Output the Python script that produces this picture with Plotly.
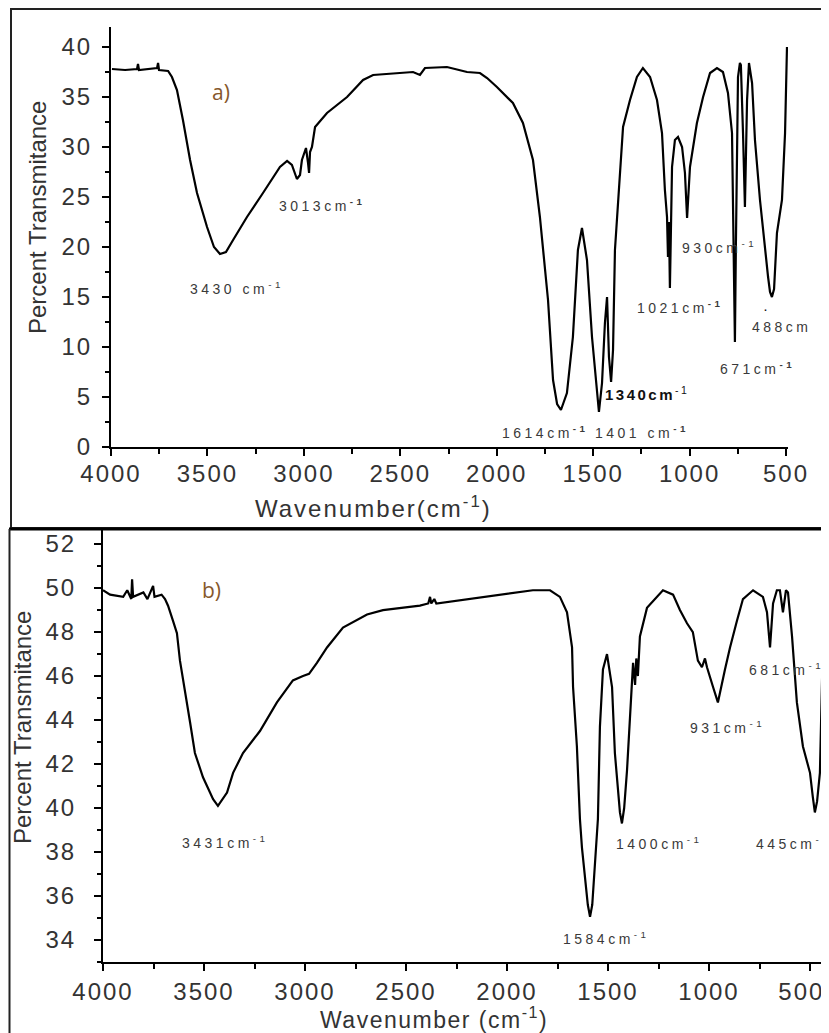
import plotly.graph_objects as go

# ---------------- data: panel a) ----------------
wn_a = [3995, 3927, 3865, 3860, 3855, 3798, 3761, 3756, 3751, 3704, 3684, 3658, 3627, 3590, 3554,
        3502, 3466, 3435, 3404, 3367, 3295, 3212, 3124, 3087, 3062, 3036, 3020, 3010, 2989, 2979,
        2973, 2968, 2958, 2942, 2880, 2776, 2693, 2641, 2517, 2434, 2398, 2372, 2258, 2154, 2087,
        2050, 1999, 1916, 1864, 1812, 1776, 1750, 1734, 1708, 1687, 1667, 1636, 1605, 1579, 1558,
        1532, 1506, 1480, 1470, 1454, 1439, 1428, 1418, 1407, 1397, 1387, 1371, 1345, 1309, 1273,
        1242, 1205, 1169, 1143, 1128, 1117, 1112, 1107, 1102, 1096, 1091, 1076, 1060, 1039, 1024,
        1013, 998, 962, 930, 894, 858, 827, 801, 780, 775, 765, 760, 749, 739, 734,
        723, 713, 702, 692, 676, 661, 635, 609, 593, 583, 573, 562, 547, 521, 505, 495]
tr_a = [37.8, 37.7, 37.8, 38.3, 37.7, 37.8, 37.9, 38.4, 37.7, 37.6, 37.0, 35.7, 32.7, 28.7, 25.4,
        22.0, 20.0, 19.3, 19.5, 20.7, 23.0, 25.4, 28.0, 28.6, 28.2, 26.8, 27.2, 28.7, 29.9, 28.5,
        27.4, 29.5, 30.0, 32.0, 33.4, 35.0, 36.7, 37.2, 37.4, 37.5, 37.2, 37.9, 38.0, 37.5, 37.4,
        36.9, 36.0, 34.4, 32.4, 28.7, 23.0, 18.0, 14.7, 6.7, 4.3, 3.7, 5.4, 11.0, 19.7, 21.9,
        18.7, 11.0, 5.0, 3.5, 6.4, 12.4, 15.0, 9.0, 6.5, 9.7, 19.7, 24.7, 32.0, 34.7, 37.0,
        37.9, 37.0, 34.7, 31.4, 25.7, 23.0, 19.0, 22.5, 15.9, 22.0, 28.0, 30.7, 31.0, 30.0, 27.4,
        22.9, 28.0, 32.4, 35.0, 37.4, 37.9, 37.5, 35.4, 31.4, 24.7, 10.5, 20.0, 37.0, 38.4, 38.2,
        31.4, 24.0, 34.7, 38.4, 36.4, 30.7, 24.7, 19.7, 17.0, 15.5, 15.0, 15.8, 21.4, 24.7, 31.4, 40.0]

# ---------------- data: panel b) ----------------
wn_b = [4000, 3965, 3900, 3880, 3860, 3856, 3851, 3800, 3780, 3752, 3745, 3710, 3693, 3678, 3653,
        3634, 3619, 3594, 3569, 3545, 3505, 3455, 3431, 3386, 3356, 3307, 3223, 3139, 3060, 3010,
        2980, 2941, 2891, 2812, 2693, 2614, 2530, 2431, 2390, 2381, 2375, 2360, 2350, 2198, 2035,
        1872, 1787, 1738, 1703, 1678, 1673, 1654, 1639, 1629, 1600, 1589, 1578, 1560, 1550, 1540,
        1525, 1505, 1480, 1466, 1441, 1431, 1420, 1406, 1391, 1376, 1366, 1360, 1352, 1342, 1307,
        1258, 1228, 1178, 1144, 1109, 1080, 1055, 1035, 1020, 1010, 980, 956, 921, 896, 862,
        832, 782, 733, 713, 698, 683, 664, 649, 634, 619, 609, 589, 565, 535, 500,
        486, 476, 465, 451, 436, 426]
tr_b = [49.9, 49.7, 49.6, 49.9, 49.5, 50.4, 49.6, 49.8, 49.5, 50.1, 49.6, 49.7, 49.5, 49.2, 48.5,
        47.95, 46.7, 45.2, 43.9, 42.5, 41.4, 40.4, 40.1, 40.7, 41.6, 42.5, 43.5, 44.8, 45.8, 46.0,
        46.1, 46.6, 47.3, 48.2, 48.8, 49.0, 49.1, 49.2, 49.3, 49.6, 49.3, 49.5, 49.3, 49.5, 49.7,
        49.9, 49.9, 49.6, 48.9, 47.3, 45.5, 42.8, 39.5, 38.2, 35.6, 35.05, 35.6, 38.2, 39.5, 43.7,
        46.3, 47.0, 45.5, 42.5, 39.8, 39.3, 40.0, 41.7, 44.0, 46.6, 45.6, 46.8, 46.0, 47.8, 49.1,
        49.6, 49.9, 49.7, 49.0, 48.4, 48.0, 46.7, 46.4, 46.8, 46.4, 45.5, 44.8, 46.3, 47.3, 48.5,
        49.5, 49.9, 49.6, 48.9, 47.3, 49.3, 49.9, 49.9, 48.9, 49.9, 49.8, 47.8, 44.8, 42.8, 41.6,
        40.5, 39.8, 40.3, 41.6, 47.6, 52.0]

# ---------------- ticks ----------------
x_ticks = [4000, 3500, 3000, 2500, 2000, 1500, 1000, 500]
x_minor = [3750, 3250, 2750, 2250, 1750, 1250, 750]
ya_ticks = [0, 5, 10, 15, 20, 25, 30, 35, 40]
ya_minor = [2.5, 7.5, 12.5, 17.5, 22.5, 27.5, 32.5, 37.5]
yb_ticks = [34, 36, 38, 40, 42, 44, 46, 48, 50, 52]
yb_minor = [33, 35, 37, 39, 41, 43, 45, 47, 49, 51]

# ---------------- peak labels ----------------
# (text, x, y, bold)
labels_a = [
    ("3430 cm<sup>-1</sup>", 3601, 15.9, False),
    ("3013cm<sup><b>-1</b></sup>", 3139, 24.2, False),
    ("1614cm<sup><b>-1</b></sup>", 1983, 1.5, False),
    ("1401 cm<sup><b>-1</b></sup>", 1501, 1.5, False),
    ("<b>1340cm</b><sup>-1</sup>", 1449, 5.4, True),
    ("1021cm<sup><b>-1</b></sup>", 1283, 14.0, False),
    ("930cm<sup>-1</sup>", 1050, 20.0, False),
    ("488cm", 687, 12.0, False),
    ("·", 632, 13.9, True),
    ("671cm<sup><b>-1</b></sup>", 853, 7.9, False),
]
labels_b = [
    ("3431cm<sup>-1</sup>", 3619, 38.45),
    ("1584cm<sup>-1</sup>", 1733, 34.1),
    ("1400cm<sup>-1</sup>", 1471, 38.4),
    ("445cm<sup>-1</sup>", 778, 38.4),
    ("931cm<sup>-1</sup>", 1104, 43.7),
    ("681cm<sup>-1</sup>", 812, 46.3),
]

# The page body has an 8 px margin, so the figure is drawn 8 px in from the window corner.
OFF = 8
W, H = 829 - OFF, 1033 - OFF
TICKFONT = dict(family="Liberation Sans, Arial, sans-serif", size=24, color="#333333")
LBLFONT = dict(family="Liberation Sans, Arial, sans-serif", size=14, color="#3a3a3a")


def spaced(s, px=3.0):
    return f'<span style="letter-spacing:{px}px">{s}</span>'


def px_x(px):
    return (px - OFF) / W


def px_y(py):
    return (H - (py - OFF)) / H


fig = go.Figure()
fig.add_trace(go.Scatter(x=wn_a, y=tr_a, mode="lines", line=dict(color="black", width=2.2),
                         xaxis="x", yaxis="y", hoverinfo="skip"))
fig.add_trace(go.Scatter(x=wn_b, y=tr_b, mode="lines", line=dict(color="black", width=2.2),
                         xaxis="x2", yaxis="y2", hoverinfo="skip"))

common = dict(showgrid=False, zeroline=False, showline=True, linecolor="black", linewidth=2,
              ticks="outside", ticklen=7, tickwidth=1.5, tickcolor="black", tickfont=TICKFONT,
              tickmode="array", automargin=False, ticklabeloverflow="allow")


def minor(vals, ln):
    return dict(tickmode="array", tickvals=vals, ticks="outside", ticklen=ln,
                tickwidth=1.5, tickcolor="black", showgrid=False)


xb_text = [spaced(str(v), 2) for v in x_ticks]
xb_text[-1] = spaced(str(x_ticks[-1]) + "&nbsp;&nbsp;", 2)

fig.update_layout(
    width=W, height=H, margin=dict(l=0, r=0, t=0, b=0, autoexpand=False),
    paper_bgcolor="white", plot_bgcolor="white", showlegend=False,
    xaxis=dict(domain=[px_x(111), px_x(788)], range=[4000, 489.7], anchor="y",
               tickvals=x_ticks, ticktext=[spaced(str(v), 2) for v in x_ticks],
               ticklabelstandoff=-3, minor=minor(x_minor, 5), **common),
    yaxis=dict(domain=[px_y(447), px_y(27)], range=[0, 42], anchor="x",
               tickvals=ya_ticks, ticktext=[spaced(str(v), 2) for v in ya_ticks],
               ticklabelstandoff=5, minor=minor(ya_minor, 4), **common),
    xaxis2=dict(domain=[px_x(103), 1.0], range=[4000, 406], anchor="y2",
                tickvals=x_ticks, ticktext=xb_text,
                ticklabelstandoff=0, minor=minor(x_minor, 5), **common),
    yaxis2=dict(domain=[px_y(962), px_y(530)], range=[33, 52.64], anchor="x2",
                tickvals=yb_ticks, ticktext=[spaced(str(v), 2) for v in yb_ticks],
                ticklabelstandoff=13, minor=minor(yb_minor, 4), **common),
)

ann = []
for text, x, y, bold in labels_a:
    f = dict(LBLFONT)
    if bold:
        f["size"] = 15
        f["color"] = "#111111"
    ann.append(dict(x=x, y=y, xref="x", yref="y", text=spaced(text, 2.5 if bold else 3.5),
                    showarrow=False, xanchor="left", yanchor="middle", font=f))
for text, x, y in labels_b:
    ann.append(dict(x=x, y=y, xref="x2", yref="y2", text=spaced(text, 3.5),
                    showarrow=False, xanchor="left", yanchor="middle", font=LBLFONT))

panel_font = dict(family="Open Sans, Calibri, sans-serif", size=21, color="#86582c")
ann.append(dict(x=3430, y=35.5, xref="x", yref="y", text="a)", showarrow=False,
                xanchor="center", yanchor="middle", font=panel_font))
ann.append(dict(x=3520, y=49.9, xref="x2", yref="y2", text="b)", showarrow=False,
                xanchor="left", yanchor="middle", font=panel_font))

title_font = dict(family="Liberation Sans, Arial, sans-serif", size=24, color="#333333")
ann.append(dict(x=px_x(38), y=px_y(218), xref="paper", yref="paper", text="Percent Transmitance",
                textangle=-90, showarrow=False, font=title_font, xanchor="center", yanchor="middle"))
ann.append(dict(x=px_x(22), y=px_y(728), xref="paper", yref="paper", text="Percent Transmitance",
                textangle=-90, showarrow=False, font=title_font, xanchor="center", yanchor="middle"))
ann.append(dict(x=px_x(373), y=px_y(507), xref="paper", yref="paper",
                text=spaced("Wavenumber(cm<sup>-1</sup>)", 2), showarrow=False, font=title_font,
                xanchor="center", yanchor="middle"))
ann.append(dict(x=px_x(434), y=px_y(1018), xref="paper", yref="paper",
                text=spaced("Wavenumber (cm<sup>-1</sup>)", 1.5), showarrow=False,
                font=dict(title_font, size=23), xanchor="center", yanchor="middle"))
fig.update_layout(annotations=ann)

# panel frames
shapes = [
    dict(type="rect", xref="paper", yref="paper", x0=px_x(11), x1=px_x(826), y0=px_y(528), y1=px_y(9),
         line=dict(color="#222222", width=2), fillcolor="rgba(0,0,0,0)"),
    dict(type="line", xref="paper", yref="paper", x0=px_x(9), x1=1.0, y0=px_y(529), y1=px_y(529),
         line=dict(color="black", width=3)),
    dict(type="line", xref="paper", yref="paper", x0=px_x(9.5), x1=px_x(9.5), y0=0, y1=px_y(529),
         line=dict(color="#222222", width=2)),
]
fig.update_layout(shapes=shapes)

fig.write_html("out.html")
